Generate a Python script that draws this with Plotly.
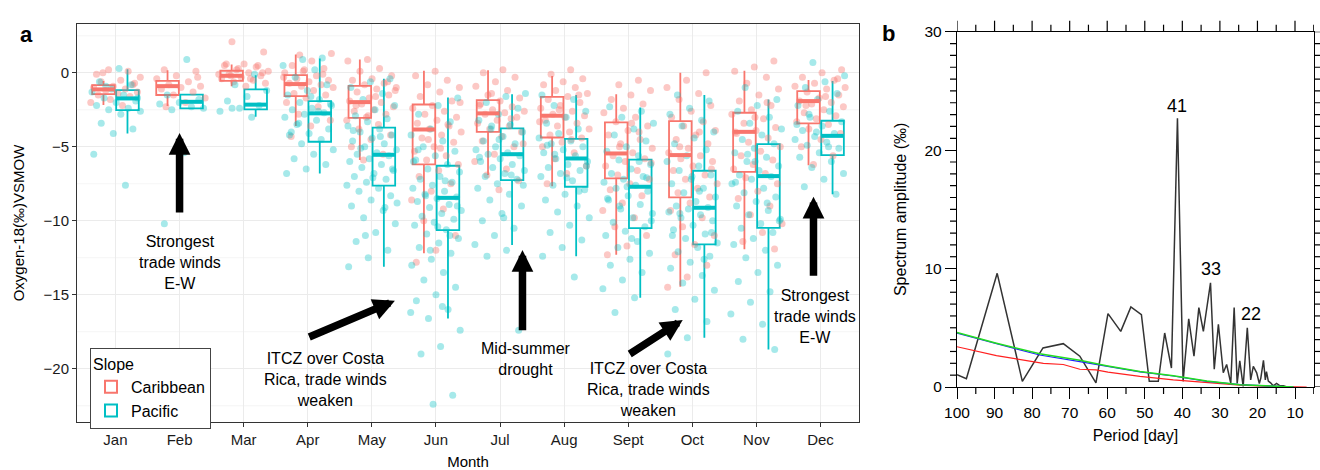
import plotly.graph_objects as go

# ---------------- data: panel a ----------------
months = ["Jan", "Feb", "Mar", "Apr", "May", "Jun", "Jul", "Aug", "Sept", "Oct", "Nov", "Dec"]
month_pos = [1, 2, 3, 4, 5, 6, 7, 8, 9, 10, 11, 12]
oxy_minor_grid = [2.5, -2.5, -7.5, -12.5, -17.5, -22.5]

car_lo  = [-2.18, -2.25, -0.90, -3.60, -5.90, -12.2, -6.90, -7.66, -12.3, -14.46, -11.93, -6.24]
car_q1  = [-1.44, -1.50, -0.54, -1.57, -3.04, -6.19, -3.99, -4.37, -7.14, -8.42, -6.69, -3.42]
car_med = [-1.12, -0.90, -0.20, -0.76, -1.98, -3.83, -2.74, -2.90, -5.45, -5.56, -3.99, -1.91]
car_q3  = [-0.83, -0.54, 0.14, -0.16, -0.88, -2.14, -1.84, -1.62, -3.35, -3.26, -2.70, -1.24]
car_hi  = [-0.56, 0.18, 0.57, 1.24, 0.90, 0.14, 0.18, -0.22, -1.44, 0.0, 0.14, -0.49]

pac_lo  = [-4.10, -2.40, -2.97, -6.80, -13.1, -16.6, -11.64, -12.4, -15.2, -17.9, -18.7, -8.20]
pac_q1  = [-2.52, -2.40, -2.47, -4.66, -7.63, -10.63, -7.25, -7.70, -10.5, -11.6, -10.48, -5.56]
pac_med = [-1.73, -1.96, -2.15, -2.74, -5.54, -8.45, -5.50, -5.79, -7.70, -9.12, -6.98, -4.26]
pac_q3  = [-1.17, -1.48, -1.12, -1.91, -3.71, -6.28, -3.76, -4.46, -5.86, -6.62, -4.82, -3.24]
pac_hi  = [0.25, -1.48, -0.16, 0.97, -0.40, -1.66, -1.44, -1.50, -2.34, -1.50, -1.80, -0.56]

car_jan = [-0.1, 0.1, 0.2, -0.3, -0.5, -0.6, -0.8, -0.9, -1.0, -1.1, -1.2, -1.3, -1.4, -1.5, -1.6, -1.8, -2.0, -2.2, 0.0, -0.7]
car_feb = [0.2, 0.1, -0.2, -0.4, -0.6, -0.8, -0.9, -1.0, -1.1, -1.3, -1.5, -1.7, -2.0, -2.3, -0.3]
car_mar = [2.1, 1.4, 0.6, 0.5, 0.4, 0.2, 0.1, 0.0, -0.1, -0.2, -0.3, -0.4, -0.5, -0.6, -0.7, -0.9, 0.6, 0.5, 0.3, -0.1, -0.4, -0.2, 0.0]
car_apr = [1.2, 1.3, 0.8, 0.5, 0.3, 0.2, 0.0, -0.2, -0.4, -0.5, -0.6, -0.7, -0.8, -0.9, -1.0, -1.2, -1.4, -1.5, -1.7, -2.0, -2.3, -2.8, -3.2, -3.6, -4.3, -0.1, 0.1, -0.3]
car_may = [0.9, 0.8, 0.3, 0.1, -0.2, -0.4, -0.5, -0.7, -0.8, -1.0, -1.1, -1.3, -1.5, -1.7, -1.9, -2.0, -2.1, -2.3, -2.5, -2.6, -2.8, -3.0, -3.2, -3.5, -3.8, -4.2, -4.5, -5.0, -5.5, -5.9, -1.2, -1.6, -2.2, -0.6, -2.9]
car_jun = [0.1, -0.2, -0.5, -0.8, -1.0, -1.3, -1.6, -1.9, -2.2, -2.4, -2.6, -2.8, -3.0, -3.2, -3.4, -3.6, -3.8, -4.0, -4.2, -4.4, -4.7, -5.0, -5.3, -5.6, -5.9, -6.2, -6.6, -7.0, -7.5, -8.0, -8.6, -9.2, -10.0, -11.0, -12.0, -12.8, -3.5, -4.5, -2.0, -5.1]
car_jul = [0.2, 0.0, -0.3, -0.6, -0.9, -1.2, -1.5, -1.7, -1.9, -2.1, -2.3, -2.5, -2.6, -2.7, -2.8, -3.0, -3.2, -3.4, -3.6, -3.8, -4.0, -4.3, -4.6, -5.0, -5.5, -6.0, -6.5, -6.9, -7.3, -7.9, -2.2, -3.1, -1.4, -4.8]
car_aug = [0.2, -0.1, -0.4, -0.6, -0.8, -1.0, -1.2, -1.4, -1.6, -1.8, -2.0, -2.2, -2.4, -2.6, -2.8, -2.9, -3.0, -3.2, -3.4, -3.6, -3.8, -4.0, -4.2, -4.4, -4.7, -5.0, -5.4, -5.8, -6.3, -6.8, -7.5, -1.5, -2.5, -3.3, -4.5]
car_sep = [-0.5, -0.8, -1.2, -1.5, -1.8, -2.1, -2.4, -2.7, -3.0, -3.3, -3.6, -3.9, -4.2, -4.5, -4.8, -5.1, -5.4, -5.6, -5.8, -6.0, -6.3, -6.6, -6.9, -7.2, -7.5, -7.9, -8.3, -8.8, -9.3, -9.8, -10.4, -11.0, -11.7, -12.3, -4.0, -5.0, -6.1, -3.4]
car_oct = [0.0, -0.5, -1.0, -1.4, -1.8, -2.2, -2.6, -3.0, -3.3, -3.6, -3.9, -4.2, -4.5, -4.8, -5.1, -5.4, -5.6, -5.8, -6.0, -6.3, -6.6, -6.9, -7.2, -7.5, -7.8, -8.1, -8.4, -8.8, -9.3, -9.8, -10.4, -11.0, -11.6, -12.3, -13.0, -13.8, -14.5, -4.0, -5.0, -6.5]
car_nov = [0.8, 0.4, 0.1, -0.3, -0.7, -1.1, -1.5, -1.9, -2.2, -2.5, -2.8, -3.1, -3.4, -3.7, -3.9, -4.1, -4.4, -4.7, -5.0, -5.3, -5.6, -5.9, -6.2, -6.5, -6.8, -7.1, -7.5, -8.0, -8.5, -9.0, -9.6, -10.2, -10.8, -11.4, -11.9, -3.0, -4.0, -2.0]
car_dec = [0.2, 0.0, -0.3, -0.5, -0.7, -0.9, -1.1, -1.3, -1.5, -1.7, -1.9, -2.0, -2.1, -2.3, -2.5, -2.7, -2.9, -3.1, -3.3, -3.5, -3.8, -4.1, -4.5, -5.0, -5.6, -6.2, -1.0, -1.6, -2.2, -0.4]

pac_jan = [0.3, -0.6, -0.8, -1.1, -1.3, -1.5, -1.7, -1.9, -2.0, -2.2, -2.4, -2.5, -2.6, -2.8, -3.4, -3.8, -4.1, -5.5, -7.6, -0.9, -1.7]
pac_feb = [0.9, -1.5, -1.8, -2.0, -2.1, -2.3, -2.5, -2.4, -5.4, -10.2]
pac_mar = [-0.1, -0.8, -1.2, -1.6, -1.9, -2.2, -2.4, -2.6, -3.0, -2.4]
pac_apr = [1.0, 0.9, 0.5, 0.2, -0.3, -0.8, -1.2, -1.5, -1.8, -2.0, -2.2, -2.4, -2.5, -2.7, -2.8, -3.0, -3.2, -3.5, -3.8, -4.1, -4.2, -4.5, -4.8, -5.2, -5.5, -5.8, -6.2, -6.5, -6.8, -2.6, -3.4, -2.1, -1.6, -4.0]
pac_may = [-0.4, -0.6, -1.0, -1.4, -1.8, -2.2, -2.5, -2.9, -3.1, -3.3, -3.6, -3.8, -4.0, -4.2, -4.4, -4.6, -4.8, -5.0, -5.2, -5.4, -5.5, -5.6, -5.8, -6.0, -6.2, -6.4, -6.6, -6.8, -7.0, -7.2, -7.4, -7.6, -7.8, -8.0, -8.3, -8.6, -9.0, -9.3, -9.8, -10.2, -10.8, -11.4, -12.0, -12.5, -13.1, -4.3, -5.1, -6.5, -7.1, -3.9, -9.1, -11.0, -8.8]
pac_jun = [-1.7, -2.2, -2.8, -3.3, -3.8, -4.2, -4.6, -5.0, -5.3, -5.6, -5.9, -6.2, -6.5, -6.7, -7.0, -7.2, -7.4, -7.6, -7.8, -8.0, -8.2, -8.4, -8.5, -8.7, -8.9, -9.1, -9.3, -9.5, -9.7, -9.9, -10.1, -10.3, -10.6, -10.9, -11.2, -11.5, -11.8, -12.2, -12.6, -13.0, -13.5, -14.0, -14.5, -15.0, -15.4, -16.0, -16.6, -17.4, -18.5, -19.0, -21.8, -22.4, -6.0, -7.3, -8.3, -9.0, -10.4, -5.2, -11.0, -12.0, -16.2, -15.8]
pac_jul = [-1.4, -1.6, -2.0, -2.4, -2.8, -3.2, -3.5, -3.8, -4.0, -4.3, -4.6, -4.8, -5.0, -5.2, -5.4, -5.5, -5.6, -5.8, -6.0, -6.2, -6.4, -6.6, -6.8, -7.0, -7.2, -7.5, -7.8, -8.2, -8.6, -9.0, -9.5, -10.0, -10.5, -11.0, -11.6, -12.0, -12.4, -17.4, -4.5, -5.7, -6.9, -3.6, -7.6, -9.8]
pac_aug = [-1.5, -1.8, -2.2, -2.6, -3.0, -3.4, -3.8, -4.1, -4.4, -4.6, -4.8, -5.0, -5.2, -5.4, -5.6, -5.8, -6.0, -6.2, -6.4, -6.6, -6.8, -7.0, -7.3, -7.6, -7.9, -8.2, -8.6, -9.0, -9.4, -9.8, -10.3, -10.8, -11.3, -11.8, -12.4, -13.8, -5.5, -6.3, -7.1, -4.9, -8.0]
pac_sep = [-2.3, -2.6, -3.0, -3.4, -3.8, -4.2, -4.6, -5.0, -5.3, -5.6, -5.9, -6.2, -6.5, -6.8, -7.0, -7.2, -7.4, -7.6, -7.8, -8.0, -8.3, -8.6, -8.9, -9.2, -9.5, -9.8, -10.1, -10.4, -10.7, -11.0, -11.4, -11.8, -12.2, -12.6, -13.0, -13.5, -14.0, -14.6, -15.2, -16.2, -7.1, -7.7, -8.5, -6.0, -9.0, -10.0, -11.2]
pac_oct = [-1.5, -1.9, -2.4, -2.8, -3.2, -3.6, -4.0, -4.4, -4.8, -5.2, -5.6, -6.0, -6.3, -6.6, -6.9, -7.2, -7.5, -7.8, -8.1, -8.4, -8.7, -9.0, -9.1, -9.2, -9.4, -9.6, -9.8, -10.0, -10.3, -10.6, -10.9, -11.2, -11.5, -11.8, -12.1, -12.4, -12.8, -13.2, -13.7, -14.2, -14.7, -15.3, -16.0, -16.8, -17.9, -19.0, -8.0, -9.5, -10.8, -7.0, -11.0, -12.6]
pac_nov = [-1.0, -1.8, -2.2, -2.6, -3.0, -3.4, -3.8, -4.2, -4.5, -4.8, -5.1, -5.4, -5.7, -6.0, -6.3, -6.6, -6.9, -7.0, -7.2, -7.5, -7.8, -8.1, -8.4, -8.7, -9.0, -9.3, -9.6, -9.9, -10.2, -10.5, -10.8, -11.2, -11.6, -12.0, -12.5, -13.0, -13.5, -14.1, -14.8, -15.5, -16.3, -17.0, -18.0, -18.7, -6.0, -7.4, -8.8, -5.5, -10.0]
pac_dec = [0.7, -0.2, -0.6, -1.0, -1.4, -1.8, -2.2, -2.6, -3.0, -3.3, -3.6, -3.9, -4.1, -4.3, -4.5, -4.7, -4.9, -5.1, -5.4, -5.7, -6.0, -6.4, -6.8, -7.2, -7.7, -8.2, -4.0, -3.5, -5.0, -2.8]

car_points = [car_jan, car_feb, car_mar, car_apr, car_may, car_jun, car_jul, car_aug, car_sep, car_oct, car_nov, car_dec]
pac_points = [pac_jan, pac_feb, pac_mar, pac_apr, pac_may, pac_jun, pac_jul, pac_aug, pac_sep, pac_oct, pac_nov, pac_dec]

# ---------------- data: panel b ----------------
spec_period = [100, 97.5, 89.3, 82.6, 77.1, 71.7, 67.3, 63.0, 59.8, 56.4, 53.7, 50.9, 48.8, 46.4, 44.7, 42.9,
               41.3, 39.8, 38.3, 36.9, 35.6, 34.4, 32.5, 31.5, 30.4, 29.1, 28.2, 27.1, 26.2, 25.4, 24.7, 23.8,
               22.7, 21.8, 21.1, 20.2, 19.5, 19.1, 18.4, 17.9, 17.6, 17.1, 16.5, 15.8, 14.9, 14.0, 13.1, 12.2]
spec_amp = [1.04, 0.7, 9.6, 0.48, 3.3, 3.66, 2.6, 0.34, 6.2, 4.7, 6.76, 6.1, 0.48, 0.48, 4.56, 1.6,
            22.7, 0.48, 5.75, 2.6, 6.7, 4.7, 8.8, 1.5, 5.3, 1.2, 1.9, 0.3, 6.7, 0.3, 2.2, 0.05,
            5.0, 0.6, 1.75, 1.2, 0.3, 0.75, 2.25, 0.6, 1.3, 0.5, 0.35, 0.1, 0.3, 0.1, 0.1, 0.0]

red_period = [100, 89.5, 77, 71.7, 67.3, 63, 59.8, 51.3, 42.4, 33.5, 24.7, 15.8, 6.9]
red_amp = [3.4, 2.65, 2.0, 1.9, 1.5, 1.45, 1.25, 0.9, 0.6, 0.35, 0.15, 0.05, 0.0]
blue_period = [100, 89.5, 78, 67.3, 60.2, 51.3, 42.4, 33.5, 24.7, 15.8, 10.4]
blue_amp = [4.55, 3.65, 2.7, 2.15, 1.78, 1.28, 0.93, 0.48, 0.2, 0.05, 0.0]
green_period = [100, 89.5, 78, 67.3, 60.2, 51.3, 42.4, 33.5, 24.7, 15.8, 10.4]
green_amp = [4.6, 3.7, 2.8, 2.25, 1.8, 1.3, 0.95, 0.5, 0.2, 0.05, 0.0]

peak_labels = ["41", "33", "22"]
peak_label_period = [41.3, 32.45, 21.8]
peak_label_amp = [23.7, 10.0, 6.2]

period_major_ticks = [100, 90, 80, 70, 60, 50, 40, 30, 20, 10]
period_minor_ticks = [95, 85, 75, 65, 55, 45, 35, 25, 15, 5]
amp_major_ticks = [0, 10, 20, 30]
amp_minor_ticks = [v for v in range(1, 30) if v % 10 != 0]

# ---------------- styling ----------------
CAR = "#F8766D"
PAC = "#00BFC4"
FONT = "Liberation Sans, Arial, Helvetica, sans-serif"
OFF = 0.1875
HALF = 0.176

fig = go.Figure()

def jitter(k, seed):
    return (((k * 0.6180339887 + seed) % 1.0) - 0.5) * 0.8

# jittered points
for slope, pts, col, seed0 in [("Caribbean", car_points, "rgba(248,118,109,0.4)", 0.13),
                               ("Pacific", pac_points, "rgba(0,191,196,0.35)", 0.57)]:
    xs, ys = [], []
    for mi, vals in enumerate(pts):
        for k, v in enumerate(vals):
            xs.append(month_pos[mi] + jitter(k, seed0 + 0.071 * mi))
            ys.append(v)
    fig.add_trace(go.Scatter(x=xs, y=ys, mode="markers", showlegend=False,
                             marker=dict(size=7, color=col, line=dict(width=0)),
                             xaxis="x", yaxis="y", hoverinfo="skip"))

# boxes
for name, col, lo, q1, med, q3, hi in [("Caribbean", CAR, car_lo, car_q1, car_med, car_q3, car_hi),
                                       ("Pacific", PAC, pac_lo, pac_q1, pac_med, pac_q3, pac_hi)]:
    fig.add_trace(go.Box(name=name, x=month_pos, q1=q1, median=med, q3=q3,
                         lowerfence=lo, upperfence=hi, offsetgroup=name,
                         line=dict(color=col, width=1.8), fillcolor="rgba(0,0,0,0)",
                         whiskerwidth=0, boxpoints=False, xaxis="x", yaxis="y"))

# thick medians
for col, med, sign in [(CAR, car_med, -1), (PAC, pac_med, 1)]:
    mx, my = [], []
    for m, v in zip(month_pos, med):
        c = m + sign * OFF
        mx += [c - HALF, c + HALF, None]
        my += [v, v, None]
    fig.add_trace(go.Scatter(x=mx, y=my, mode="lines", showlegend=False,
                             line=dict(color=col, width=4), xaxis="x", yaxis="y", hoverinfo="skip"))

# panel b lines
fig.add_trace(go.Scatter(x=spec_period, y=spec_amp, mode="lines", showlegend=False,
                         line=dict(color="#333333", width=1.5), xaxis="x2", yaxis="y2"))
fig.add_trace(go.Scatter(x=red_period, y=red_amp, mode="lines", showlegend=False,
                         line=dict(color="#ff2020", width=1.2), xaxis="x2", yaxis="y2"))
fig.add_trace(go.Scatter(x=blue_period, y=blue_amp, mode="lines", showlegend=False,
                         line=dict(color="#2020ff", width=1.2), xaxis="x2", yaxis="y2"))
fig.add_trace(go.Scatter(x=green_period, y=green_amp, mode="lines", showlegend=False,
                         line=dict(color="#22dd22", width=1.5), xaxis="x2", yaxis="y2"))

# ---------------- shapes: minor grid (a) and tick combs (b) ----------------
shapes = []
for v in oxy_minor_grid:
    shapes.append(dict(type="line", xref="x domain", x0=0, x1=1, yref="y", y0=v, y1=v,
                       line=dict(color="#F2F2F2", width=0.8), layer="below"))

TK = dict(color="black", width=1.2)
# top side (major 11 px, minor 7 px), bottom minor
for v in period_major_ticks:
    shapes.append(dict(type="line", xref="x2", x0=v, x1=v, yref="y2 domain", ysizemode="pixel",
                       yanchor=1, y0=0, y1=11, line=TK, layer="above"))
for v in period_minor_ticks:
    shapes.append(dict(type="line", xref="x2", x0=v, x1=v, yref="y2 domain", ysizemode="pixel",
                       yanchor=1, y0=0, y1=7, line=TK, layer="above"))
    shapes.append(dict(type="line", xref="x2", x0=v, x1=v, yref="y2 domain", ysizemode="pixel",
                       yanchor=0, y0=0, y1=-7, line=TK, layer="above"))
# right side (major + minor), left minor
for v in amp_major_ticks:
    shapes.append(dict(type="line", yref="y2", y0=v, y1=v, xref="x2 domain", xsizemode="pixel",
                       xanchor=1, x0=0, x1=11, line=TK, layer="above"))
for v in amp_minor_ticks:
    shapes.append(dict(type="line", yref="y2", y0=v, y1=v, xref="x2 domain", xsizemode="pixel",
                       xanchor=1, x0=0, x1=7, line=TK, layer="above"))
    shapes.append(dict(type="line", yref="y2", y0=v, y1=v, xref="x2 domain", xsizemode="pixel",
                       xanchor=0, x0=0, x1=-7, line=TK, layer="above"))

annotations = []
# arrows panel a (tip x, tip y, tail x, tail y)
arrows = [(2.0, -4.07, 2.0, -9.55), (5.36, -15.4, 4.0, -17.9), (7.35, -11.98, 7.35, -17.5),
          (9.85, -16.7, 9.0, -19.07), (11.89, -8.38, 11.89, -13.82)]
for tx, ty, sx, sy in arrows:
    annotations.append(dict(x=tx, y=ty, ax=sx, ay=sy, xref="x", yref="y", axref="x", ayref="y",
                            text="", showarrow=True, arrowhead=2, arrowsize=0.58, arrowwidth=7.5,
                            arrowcolor="black", standoff=0))
texts = [(2.0, -12.8, "Strongest<br>trade winds<br>E-W"),
         (4.28, -20.7, "ITCZ over Costa<br>Rica, trade winds<br>weaken"),
         (7.41, -19.35, "Mid-summer<br>drought"),
         (9.31, -21.4, "ITCZ over Costa<br>Rica, trade winds<br>weaken"),
         (11.91, -16.5, "Strongest<br>trade winds<br>E-W")]
for x, y, t in texts:
    annotations.append(dict(x=x, y=y, xref="x", yref="y", text=t, showarrow=False,
                            font=dict(size=16, color="black", family=FONT), align="center"))
for t, px, py in zip(peak_labels, peak_label_period, peak_label_amp):
    annotations.append(dict(x=px, y=py, xref="x2", yref="y2", text=t, showarrow=False,
                            font=dict(size=18, color="black", family=FONT)))
annotations.append(dict(x=18 / 1320, y=1 - 20 / 470, xref="paper", yref="paper", text="<b>a</b>",
                        showarrow=False, font=dict(size=22, color="black", family=FONT)))
annotations.append(dict(x=897 / 1320, y=1 - 19 / 470, xref="paper", yref="paper", text="<b>b</b>",
                        showarrow=False, font=dict(size=22, color="black", family=FONT)))

fig.update_layout(
    width=1320, height=470,
    margin=dict(l=0, r=0, t=0, b=0, autoexpand=False),
    paper_bgcolor="white", plot_bgcolor="white",
    font=dict(family=FONT, size=15, color="black"),
    boxmode="group", boxgap=0.25, boxgroupgap=0.06,
    annotations=annotations, shapes=shapes,
    legend=dict(x=90 / 1320, y=1 - 348 / 470, xanchor="left", yanchor="top",
                bgcolor="white", bordercolor="#444", borderwidth=1,
                title=dict(text="Slope", font=dict(size=16)),
                font=dict(size=16), tracegroupgap=0, itemsizing="constant"),
    xaxis=dict(domain=[77 / 1320, 859 / 1320], range=[0.4, 12.6], tickmode="array",
               tickvals=month_pos, ticktext=months, showgrid=True, gridcolor="#EBEBEB",
               zeroline=False, showline=True, mirror=True, linecolor="#333", linewidth=1,
               ticks="outside", ticklen=4, tickcolor="#333", automargin=False,
               title=dict(text="Month", standoff=10, font=dict(size=15)),
               tickfont=dict(size=15, color="#1a1a1a"), anchor="y"),
    yaxis=dict(domain=[48 / 470, 446 / 470], range=[-23.6, 3.3], tick0=0, dtick=5,
               showgrid=True, gridcolor="#EBEBEB", zeroline=False, showline=True, mirror=True,
               linecolor="#333", linewidth=1, ticks="outside", ticklen=4, tickcolor="#333",
               automargin=False,
               title=dict(text="Oxygen-18(‰)VSMOW", standoff=15, font=dict(size=15)),
               tickfont=dict(size=15, color="#1a1a1a"), anchor="x"),
    xaxis2=dict(domain=[957 / 1320, 1314 / 1320], range=[100, 4.94], tickmode="array",
                tickvals=period_major_ticks,
                showgrid=False, zeroline=False, showline=True, mirror=True,
                linecolor="black", linewidth=1.3, ticks="outside", ticklen=11, tickcolor="black",
                tickwidth=1.2, automargin=False,
                title=dict(text="Period [day]", standoff=10, font=dict(size=16)),
                tickfont=dict(size=15.5), anchor="y2"),
    yaxis2=dict(domain=[83 / 470, 438.3 / 470], range=[0, 30], tickmode="array",
                tickvals=amp_major_ticks,
                showgrid=False, zeroline=False, showline=True, mirror=True,
                linecolor="black", linewidth=1.3, ticks="outside", ticklen=11, tickcolor="black",
                tickwidth=1.2, automargin=False,
                title=dict(text="Spectrum amplitude (‰)", standoff=13, font=dict(size=16)),
                tickfont=dict(size=15.5), anchor="x2"),
)

fig.write_html("out.html")
